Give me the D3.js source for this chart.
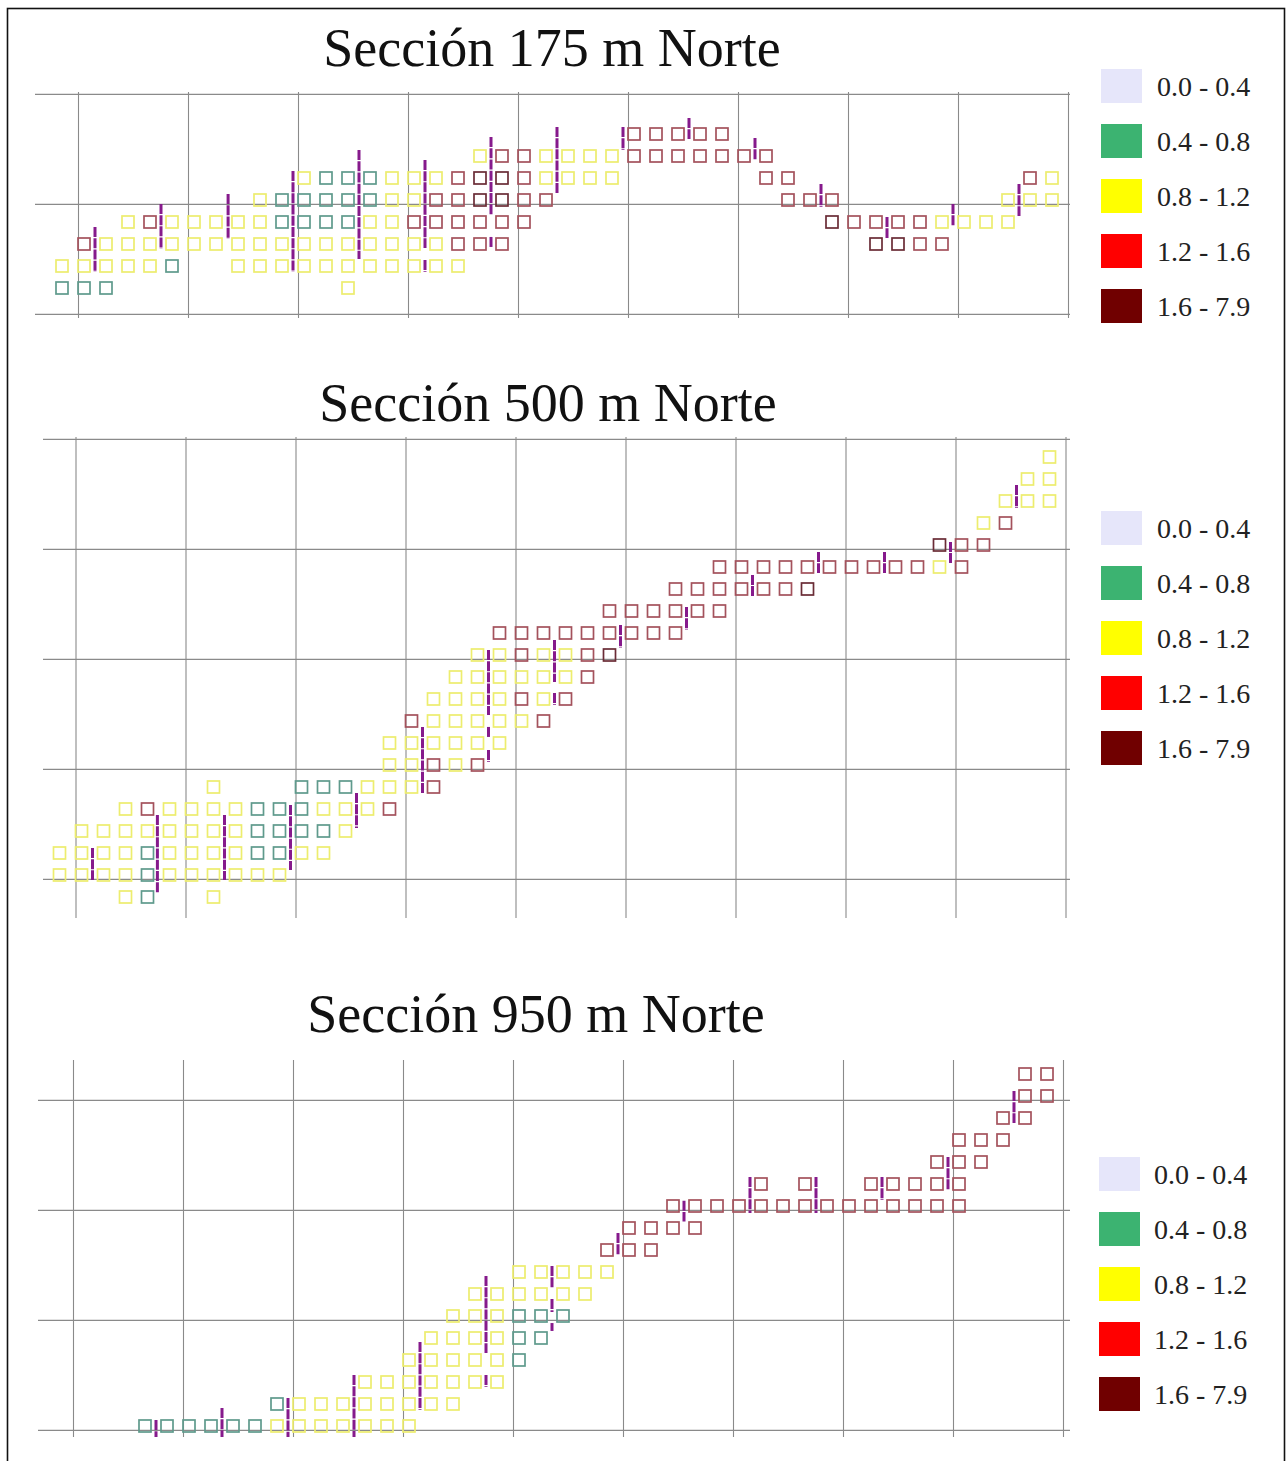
<!DOCTYPE html>
<html>
<head>
<meta charset="utf-8">
<script src="https://cdn.jsdelivr.net/npm/d3@7/dist/d3.min.js"></script>
<style>
  body { margin: 0; background: #fff; }
  svg { display: block; }
</style>
</head>
<body>
<svg id="chart" width="1286" height="1461"></svg>
<script>
// ---- Data -------------------------------------------------------------
const sectionTitles = ["Sección 175 m Norte", "Sección 500 m Norte", "Sección 950 m Norte"];

const gradeClasses = ["0.0 - 0.4", "0.4 - 0.8", "0.8 - 1.2", "1.2 - 1.6", "1.6 - 7.9"];
const classCodes   = ["L", "G", "Y", "R", "D"];

// Block model rows: [level, first column, class code per column ('.' = no block)]
const blocks175 = [
  [7, 26, "RRRRR"],
  [6, 19, "YRRYYYYRRRRRRR"],
  [5, 11, "YGGGYYYRDDRYYYY"], [5, 32, "RR"], [5, 44, "RY"],
  [4, 9, "YGGGGGYYRRDDRR"], [4, 33, "RRR"], [4, 43, "YYY"],
  [3, 3, "YRYYYYYGGGGYYRRRRRR"], [3, 35, "DRRRRYYYY"],
  [2, 1, "RYYYYYYYYYYYYYYYYRRR"], [2, 37, "DDRR"],
  [1, 0, "YYYYYG..YYYYYYYYYYY"],
  [0, 0, "GGG"], [0, 13, "Y"]
];
const blocks500 = [
  [20, 45, "Y"],
  [19, 44, "YY"],
  [18, 43, "YYY"],
  [17, 42, "YR"],
  [16, 40, "DRR"],
  [15, 30, "RRRRRRRRRRYR"],
  [14, 28, "RRRRRRD"],
  [13, 25, "RRRRRR"],
  [12, 20, "RRRRRRRRR"],
  [11, 19, "YYRYYRD"],
  [10, 18, "YYYYYYR"],
  [9, 17, "YYYYRYR"],
  [8, 16, "RYYYYYR"],
  [7, 15, "YYYYYY"],
  [6, 15, "YYRYR"],
  [5, 7, "Y...GGGYYYR"],
  [4, 3, "YRYYYYGGGYYYR"],
  [3, 1, "YYYYYYYYGGGGY"],
  [2, 0, "YYYYGYYYYGGYY"],
  [1, 0, "YYYYGYYYYYY"],
  [0, 3, "YG..Y"]
];
const blocks950 = [
  [16, 44, "RR"],
  [15, 44, "RR"],
  [14, 43, "RR"],
  [13, 41, "RRR"],
  [12, 40, "RRR"],
  [11, 32, "R.R..RRRRR"],
  [10, 28, "RRRRRRRRRRRRRR"],
  [9, 26, "RRRR"],
  [8, 25, "RRR"],
  [7, 21, "YYYYY"],
  [6, 19, "YYYYYY"],
  [5, 18, "YYYGGG"],
  [4, 17, "YYYYGG"],
  [3, 16, "YYYYYG"],
  [2, 14, "YYYYYYY"],
  [1, 10, "GYYYYYYYY"],
  [0, 4, "GGGGGGYYYYYYY"]
];

// Drill-hole traces: [column, top level, bottom level]
const holes175 = [
  [1.5, 2.77, 0.73], [4.5, 3.82, 1.77], [7.55, 4.27, 2.23], [10.5, 5.32, 0.73],
  [13.5, 6.27, 1.32], [16.5, 5.82, 1.82], [16.5, 1.27, 0.73],
  [19.5, 6.86, 3.32], [19.5, 2.32, 1.82], [22.5, 7.32, 4.32],
  [25.5, 7.32, 6.27], [28.5, 7.73, 6.77], [31.5, 6.82, 5.82],
  [34.5, 4.73, 3.68], [37.5, 3.23, 2.27], [40.5, 3.82, 2.82], [43.5, 4.73, 3.27]
];
const holes500 = [
  [1.5, 2.23, 0.77], [4.45, 3.73, 0.18], [7.5, 3.73, 0.77], [10.5, 4.18, 1.23],
  [13.5, 4.73, 3.14], [16.5, 7.73, 4.73],
  [19.5, 11.23, 8.27], [19.5, 7.73, 7.23], [19.5, 6.68, 6.14],
  [22.5, 11.68, 9.77], [22.5, 9.27, 8.73],
  [25.5, 12.36, 11.32], [28.5, 13.18, 12.14], [31.5, 14.64, 13.64],
  [34.5, 15.68, 14.73], [37.5, 15.68, 14.73], [40.5, 16.14, 15.14], [43.5, 18.73, 17.68]
];
const holes950 = [
  [4.5, 0.27, -0.5], [7.5, 0.82, -0.5], [10.5, 1.27, -0.5], [13.5, 2.32, -0.5],
  [16.5, 3.82, 0.73], [19.5, 6.82, 3.32], [19.5, 2.32, 1.77],
  [22.5, 7.27, 6.27], [22.5, 5.77, 5.18], [22.5, 4.68, 4.32],
  [25.5, 8.77, 7.77], [28.5, 10.24, 9.29], [31.5, 11.32, 9.68], [34.5, 11.32, 9.68],
  [37.5, 11.32, 10.27], [40.5, 12.23, 10.73], [43.5, 15.23, 13.77]
];

// Grid line positions in block units
const colGrid    = d3.range(0.75, 46, 5);
const rowGrid175 = [-1.2, 3.8, 8.8];
const rowGrid500 = [0.8, 5.8, 10.8, 15.8, 20.8];
const rowGrid950 = [-0.2, 4.8, 9.8, 14.8];

// ---- Styles -----------------------------------------------------------
const legendFill  = ["#e6e6fa", "#3cb371", "#ffff00", "#ff0000", "#700000"];
const blockStroke = ["#d8d8f0", "#5f9a8c", "#eded6e", "#a4525c", "#6a2c36"];
const CELL = 22;

const panels = [
  { title: sectionTitles[0], blocks: blocks175, holes: holes175, rowGrid: rowGrid175,
    x0: 62, y0: 288, left: 35, right: 1070, top: 92, bottom: 318,
    titleX: 552, titleY: 66, legX: 1101, legY: 86, legTextX: 1157 },
  { title: sectionTitles[1], blocks: blocks500, holes: holes500, rowGrid: rowGrid500,
    x0: 59.5, y0: 897, left: 43, right: 1070, top: 437, bottom: 918,
    titleX: 548, titleY: 421, legX: 1101, legY: 528, legTextX: 1157 },
  { title: sectionTitles[2], blocks: blocks950, holes: holes950, rowGrid: rowGrid950,
    x0: 57, y0: 1426, left: 38, right: 1070, top: 1060, bottom: 1437,
    titleX: 536, titleY: 1032, legX: 1099, legY: 1174, legTextX: 1154 }
];

const svg = d3.select("#chart");

svg.append("rect")
  .attr("x", 7.5).attr("y", 8.5)
  .attr("width", 1277).attr("height", 1470)
  .attr("fill", "#fff").attr("stroke", "#111").attr("stroke-width", 1.6);

panels.forEach(p => {
  const g = svg.append("g");
  const x = d3.scaleLinear().domain([0, 1]).range([p.x0, p.x0 + CELL]);
  const y = d3.scaleLinear().domain([0, 1]).range([p.y0, p.y0 - CELL]);

  // grid
  g.selectAll("line.v").data(colGrid).join("line")
    .attr("x1", d => x(d)).attr("x2", d => x(d))
    .attr("y1", p.top).attr("y2", p.bottom)
    .attr("stroke", "#8a8a8a").attr("stroke-width", 1.1);
  g.selectAll("line.h").data(p.rowGrid).join("line")
    .attr("x1", p.left).attr("x2", p.right)
    .attr("y1", d => y(d)).attr("y2", d => y(d))
    .attr("stroke", "#8a8a8a").attr("stroke-width", 1.1);

  // blocks
  const cells = [];
  p.blocks.forEach(([lvl, c0, codes]) => {
    codes.split("").forEach((ch, i) => {
      const k = classCodes.indexOf(ch);
      if (k >= 0) cells.push({ col: c0 + i, lvl, k });
    });
  });
  g.append("g").selectAll("rect").data(cells).join("rect")
    .attr("x", d => x(d.col) - 6).attr("y", d => y(d.lvl) - 6)
    .attr("width", 12).attr("height", 12)
    .attr("fill", "none")
    .attr("stroke", d => blockStroke[d.k])
    .attr("stroke-width", 1.7);

  // drill holes
  g.append("g").selectAll("line").data(p.holes).join("line")
    .attr("x1", d => x(d[0])).attr("x2", d => x(d[0]))
    .attr("y1", d => y(d[1])).attr("y2", d => y(d[2]))
    .attr("stroke", "#861a8c").attr("stroke-width", 3)
    .attr("stroke-dasharray", "10,1.2");

  // title
  svg.append("text")
    .attr("x", p.titleX).attr("y", p.titleY)
    .attr("text-anchor", "middle")
    .attr("font-family", "'Liberation Serif', 'Times New Roman', serif")
    .attr("font-size", 54).attr("fill", "#111")
    .text(p.title);

  // legend
  const leg = svg.append("g");
  gradeClasses.forEach((lab, i) => {
    const cy = p.legY + i * 55;
    leg.append("rect")
      .attr("x", p.legX).attr("y", cy - 17)
      .attr("width", 41).attr("height", 34)
      .attr("fill", legendFill[i]);
    leg.append("text")
      .attr("x", p.legTextX).attr("y", cy + 10)
      .attr("font-family", "'Liberation Serif', 'Times New Roman', serif")
      .attr("font-size", 28).attr("fill", "#222")
      .text(lab);
  });
});
</script>
</body>
</html>
